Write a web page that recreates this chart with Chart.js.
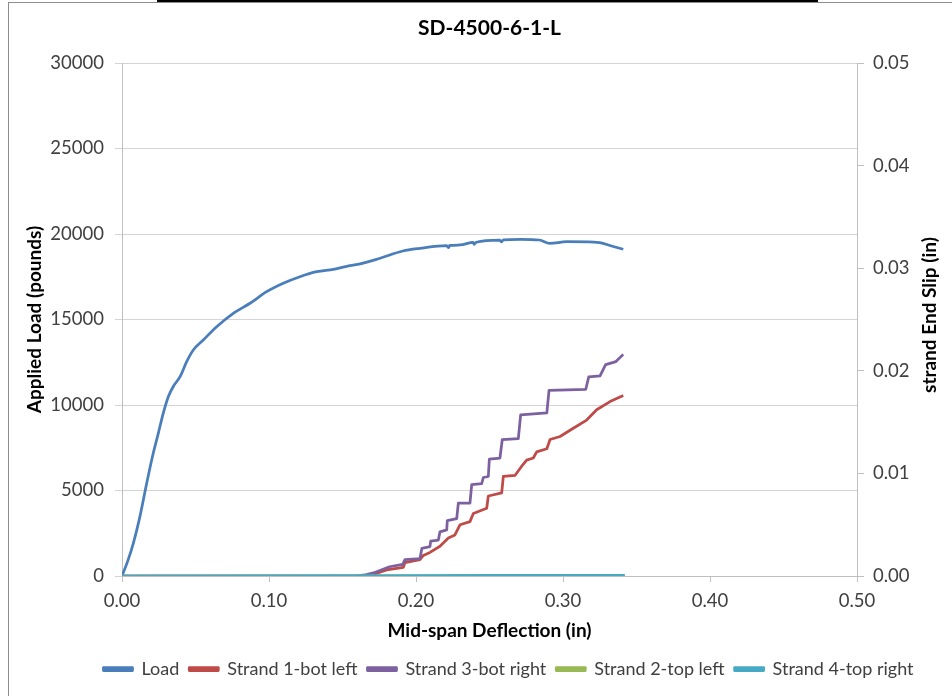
<!DOCTYPE html>
<html>
<head>
<meta charset="utf-8">
<script src="https://cdn.jsdelivr.net/npm/chart.js@4.4.1/dist/chart.umd.min.js"></script>
<style>
  body { margin: 0; background: #fff; }
  #wrap { position: relative; width: 952px; height: 696px; overflow: hidden; }
  #frame { position: absolute; left: 8px; top: 2px; right: -2px; bottom: -2px; border: 1px solid #8c8c8c; pointer-events: none; }
  #bar { position: absolute; left: 157px; top: 0; width: 661px; height: 2px; background: #000; }
</style>
</head>
<body>
<div id="wrap">
  <canvas id="slipChart" width="952" height="696"></canvas>
  <div id="frame"></div>
  <div id="bar"></div>
</div>
<script>
const loadX = [0, 0.004, 0.0077, 0.012, 0.0168, 0.0205, 0.0247, 0.028, 0.0315, 0.035, 0.0395, 0.044, 0.0485, 0.0553, 0.0644, 0.0757, 0.0871, 0.0984, 0.1097, 0.121, 0.1325, 0.1438, 0.155, 0.162, 0.1755, 0.191, 0.2027, 0.2209, 0.222, 0.223, 0.23, 0.239, 0.2395, 0.241, 0.257, 0.258, 0.2595, 0.271, 0.284, 0.291, 0.3025, 0.321, 0.325, 0.333, 0.341];
const loadY = [0, 900, 1912, 3400, 5421, 6900, 8345, 9500, 10485, 11100, 11655, 12535, 13216, 13801, 14579, 15363, 15950, 16626, 17119, 17503, 17796, 17935, 18150, 18250, 18579, 19006, 19162, 19317, 19200, 19330, 19357, 19513, 19400, 19520, 19649, 19540, 19660, 19690, 19649, 19455, 19549, 19532, 19493, 19300, 19106];

const s1X = [0, 0.165, 0.172, 0.18, 0.1914, 0.1925, 0.2027, 0.205, 0.2095, 0.2163, 0.222, 0.2265, 0.23, 0.2367, 0.239, 0.2481, 0.2492, 0.2583, 0.2594, 0.2673, 0.2719, 0.2753, 0.2798, 0.2821, 0.289, 0.2912, 0.298, 0.307, 0.3161, 0.3229, 0.332, 0.341];
const s1Y = [0, 0, 0.0002, 0.0006, 0.00085, 0.0013, 0.0016, 0.002, 0.0023, 0.0029, 0.0037, 0.004, 0.005, 0.0053, 0.0061, 0.0066, 0.0078, 0.0081, 0.0097, 0.0098, 0.0107, 0.0113, 0.0115, 0.0121, 0.0124, 0.0133, 0.0136, 0.0144, 0.0152, 0.0162, 0.017, 0.0176];

const s3X = [0, 0.16, 0.165, 0.171, 0.182, 0.191, 0.1925, 0.2027, 0.204, 0.2095, 0.21, 0.2152, 0.2163, 0.2209, 0.2213, 0.2277, 0.2288, 0.2367, 0.2379, 0.2447, 0.2458, 0.2492, 0.2499, 0.2571, 0.2587, 0.2696, 0.2712, 0.289, 0.2905, 0.3155, 0.3175, 0.3252, 0.329, 0.336, 0.341];
const s3Y = [0, 0, 0.0001, 0.0003, 0.0009, 0.00114, 0.0016, 0.0017, 0.0027, 0.00286, 0.0034, 0.0035, 0.0043, 0.0045, 0.0054, 0.0056, 0.0071, 0.0071, 0.0089, 0.009, 0.0096, 0.0097, 0.0114, 0.0115, 0.0133, 0.0134, 0.0157, 0.0159, 0.0181, 0.0182, 0.0194, 0.0195, 0.0206, 0.0209, 0.0216];

const s2X = [0, 0.1, 0.2, 0.3, 0.342];
const s2Y = [0, 0, 0.00002, 0.00003, 0.00003];

const s4X = [0, 0.1, 0.2, 0.25, 0.3, 0.342];
const s4Y = [0, 0.00002, 0.00004, 0.00006, 0.00005, 0.00005];

const seriesNames = ["Load", "Strand 1-bot left", "Strand 3-bot right", "Strand 2-top left", "Strand 4-top right"];
const seriesColors = ["#4A7EBB", "#BE4B48", "#7D60A0", "#98B954", "#46AAC5"];

const xTicks = [0, 0.1, 0.2, 0.3, 0.4, 0.5];

const pts = (xs, ys) => xs.map((x, i) => ({ x, y: ys[i] }));
const line = (i, xs, ys, axis) => ({
  label: seriesNames[i],
  data: pts(xs, ys),
  yAxisID: axis,
  order: 4 - i,
  borderColor: seriesColors[i],
  backgroundColor: seriesColors[i],
  borderWidth: 2.75,
  borderJoinStyle: "round",
  pointRadius: 0,
  showLine: true,
  tension: 0
});

const FONT = "Lato";
const tickFont = { family: FONT, size: 18.5 };
const boldFont = { family: FONT, size: 19, weight: "bold" };

// Excel writes the secondary axis title bottom-to-top
const rightTitle = {
  id: "rightTitle",
  afterDraw(chart) {
    const c = chart.ctx;
    c.save();
    c.translate(930, 315);
    c.rotate(-Math.PI / 2);
    c.font = "bold 19px " + FONT;
    c.fillStyle = "#000";
    c.textAlign = "center";
    c.textBaseline = "middle";
    c.fillText("strand End Slip (in)", 0, 0);
    c.restore();
  }
};

const loadSet = line(0, loadX, loadY, "y");
loadSet.cubicInterpolationMode = "monotone";

const ctx = document.getElementById("slipChart").getContext("2d");
const chart = new Chart(ctx, {
  type: "scatter",
  data: {
    datasets: [
      loadSet,
      line(1, s1X, s1Y, "y2"),
      line(2, s3X, s3Y, "y2"),
      line(3, s2X, s2Y, "y2"),
      line(4, s4X, s4Y, "y2")
    ]
  },
  options: {
    responsive: false,
    animation: false,
    layout: { padding: { left: 8, right: -57, top: 3, bottom: 8 } },
    plugins: {
      title: {
        display: true,
        text: "SD-4500-6-1-L",
        fullSize: false,
        color: "#000",
        font: { family: FONT, size: 21, weight: "bold" },
        padding: { top: 13, bottom: 21.8 }
      },
      legend: {
        position: "bottom",
        labels: {
          font: { family: FONT, size: 18 },
          color: "#404040",
          boxWidth: 29,
          boxHeight: 3,
          padding: 10,
          sort: (a, b) => a.datasetIndex - b.datasetIndex
        }
      },
      tooltip: { enabled: false }
    },
    scales: {
      x: {
        type: "linear",
        min: 0,
        max: 0.5,
        afterBuildTicks: s => { s.ticks = xTicks.map(v => ({ value: v })); },
        afterFit: s => { s.height = 74; },
        border: { color: "#bfbfbf" },
        grid: { drawOnChartArea: false, drawTicks: true, tickLength: 6, color: "#bfbfbf" },
        ticks: { font: tickFont, color: "#404040", padding: 7.5, maxRotation: 0, callback: v => v.toFixed(2) },
        title: { display: true, text: "Mid-span Deflection (in)", font: boldFont, color: "#000", padding: { top: 0, bottom: 7.6 } }
      },
      y: {
        position: "left",
        min: 0,
        max: 30000,
        afterFit: s => { s.width = 122 - 8; },
        border: { color: "#bfbfbf" },
        grid: { color: "#d4d4d4", tickLength: 7 },
        ticks: { stepSize: 5000, font: tickFont, color: "#404040", padding: 11, callback: v => String(v) },
        title: { display: true, text: "Applied Load (pounds)", font: boldFont, color: "#000", padding: { top: 15.6, bottom: 0 } }
      },
      y2: {
        position: "right",
        min: 0,
        max: 0.05,
        afterFit: s => { s.width = 952 + 57 - 857; },
        border: { color: "#bfbfbf" },
        grid: { drawOnChartArea: false, color: "#bfbfbf", tickLength: 7 },
        ticks: { stepSize: 0.01, font: tickFont, color: "#404040", padding: 9, callback: v => v.toFixed(2) }
      }
    }
  },
  plugins: [rightTitle]
});
</script>
</body>
</html>
